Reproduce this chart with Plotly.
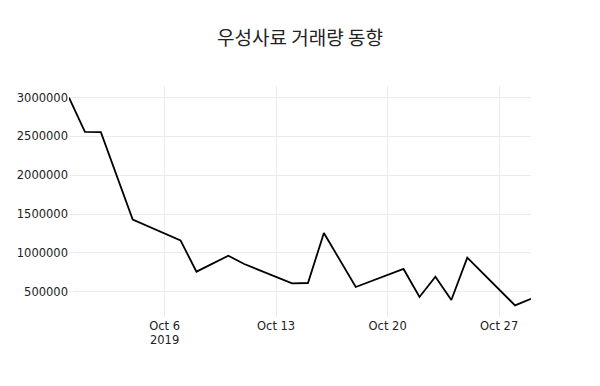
import plotly.graph_objects as go

dates = ["2019-09-30", "2019-10-01", "2019-10-02", "2019-10-04", "2019-10-07",
         "2019-10-08", "2019-10-10", "2019-10-11", "2019-10-14", "2019-10-15",
         "2019-10-16", "2019-10-18", "2019-10-21", "2019-10-22", "2019-10-23",
         "2019-10-24", "2019-10-25", "2019-10-28", "2019-10-29"]
volume = [3000000, 2558000, 2555000, 1428000, 1161000,
          758000, 964000, 857000, 607000, 612000,
          1256000, 561000, 793000, 432000, 693000,
          393000, 938000, 323000, 408000]

title_text = "우성사료 거래량 동향"

fig = go.Figure()
fig.add_trace(go.Scatter(x=dates, y=volume, mode="lines",
                         line=dict(color="black", width=1.8)))

fig.update_layout(
    width=600, height=386,
    margin=dict(l=61, r=77, t=78, b=77, autoexpand=False),
    paper_bgcolor="white", plot_bgcolor="white",
    font=dict(family="DejaVu Sans, Noto Sans CJK KR, sans-serif", size=11.5, color="#222"),
    title=dict(text=title_text, xref="paper", x=0.5, xanchor="center",
               y=0.922, yanchor="middle",
               font=dict(size=19, color="#222",
                         family="Noto Sans CJK KR, DejaVu Sans, sans-serif")),
    showlegend=False,
)
fig.update_xaxes(showgrid=True, gridcolor="#ebebeb", zeroline=False, showline=False,
                 ticks="", automargin=False)
fig.update_yaxes(showgrid=True, gridcolor="#ebebeb", zeroline=False, showline=False,
                 ticks="", tickformat="d", automargin=False)

fig.write_html("out.html")
